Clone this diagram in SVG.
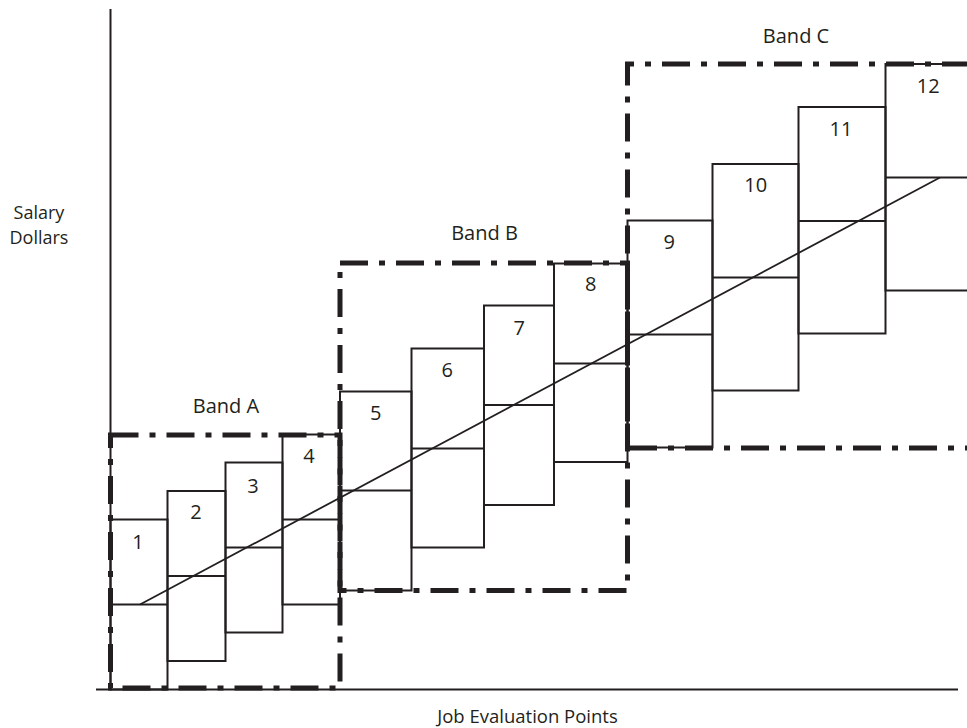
<svg xmlns="http://www.w3.org/2000/svg" width="967" height="728" viewBox="0 0 967 728">
  <style>
    .bg { fill: #ffffff; }
    .axis { stroke: #231f20; stroke-width: 2; fill: none; }
    .grade rect, .grade path, .grade line { stroke: #231f20; stroke-width: 2; fill: none; }
    .band path { stroke: #231f20; stroke-width: 5; fill: none; stroke-dasharray: 28 11 6 11; stroke-linejoin: miter; }
    .trend { stroke: #231f20; stroke-width: 1.8; fill: none; }
    text { font-family: "Open Sans", "Noto Sans", "Liberation Sans", sans-serif; fill: #231f20; }
    .num { font-size: 20px; text-anchor: middle; }
    .lbl { font-size: 20px; text-anchor: middle; }
    .ax { font-size: 18.5px; text-anchor: middle; }
    .ax-s { font-size: 18px; text-anchor: middle; }
  </style>

  <rect class="bg" x="0" y="0" width="967" height="728"/>

  <!-- axes -->
  <g id="axes">
    <line class="axis" x1="110.5" y1="9" x2="110.5" y2="690"/>
    <line class="axis" x1="96" y1="689.5" x2="958" y2="689.5"/>
    <text class="ax-s" x="39" y="219">Salary</text>
    <text class="ax-s" x="39" y="244">Dollars</text>
    <text class="ax" x="527.5" y="722.5">Job Evaluation Points</text>
  </g>

  <!-- pay grades: range box with midpoint line -->
  <g id="grade-1" class="grade">
    <rect x="110.5" y="519.5" width="57" height="170"/>
    <line x1="110.5" y1="604.5" x2="167.5" y2="604.5"/>
    <text class="num" x="138" y="548.5">1</text>
  </g>
  <g id="grade-2" class="grade">
    <rect x="167.5" y="491" width="58" height="170"/>
    <line x1="167.5" y1="576" x2="225.5" y2="576"/>
    <text class="num" x="196" y="519">2</text>
  </g>
  <g id="grade-3" class="grade">
    <rect x="225.5" y="462.5" width="57" height="170"/>
    <line x1="225.5" y1="547.5" x2="282.5" y2="547.5"/>
    <text class="num" x="253" y="492.5">3</text>
  </g>
  <g id="grade-4" class="grade">
    <rect x="282.5" y="434.5" width="57.5" height="170"/>
    <line x1="282.5" y1="519.5" x2="340" y2="519.5"/>
    <text class="num" x="309" y="462.5">4</text>
  </g>
  <g id="grade-5" class="grade">
    <rect x="340" y="391.5" width="71.5" height="199"/>
    <line x1="340" y1="490.5" x2="411.5" y2="490.5"/>
    <text class="num" x="375.7" y="420">5</text>
  </g>
  <g id="grade-6" class="grade">
    <rect x="411.5" y="348.5" width="72.5" height="199"/>
    <line x1="411.5" y1="448.5" x2="484" y2="448.5"/>
    <text class="num" x="447.3" y="377">6</text>
  </g>
  <g id="grade-7" class="grade">
    <rect x="484" y="305.5" width="70" height="199.5"/>
    <line x1="484" y1="405" x2="554" y2="405"/>
    <text class="num" x="519.3" y="335">7</text>
  </g>
  <g id="grade-8" class="grade">
    <rect x="554" y="263.5" width="73.5" height="198.5"/>
    <line x1="554" y1="363.5" x2="627.5" y2="363.5"/>
    <text class="num" x="590.7" y="291">8</text>
  </g>
  <g id="grade-9" class="grade">
    <rect x="627.5" y="220.5" width="85" height="227"/>
    <line x1="627.5" y1="334.5" x2="712.5" y2="334.5"/>
    <text class="num" x="669.3" y="249">9</text>
  </g>
  <g id="grade-10" class="grade">
    <rect x="712.5" y="164" width="86" height="226.5"/>
    <line x1="712.5" y1="277.5" x2="798.5" y2="277.5"/>
    <text class="num" x="755.7" y="192">10</text>
  </g>
  <g id="grade-11" class="grade">
    <rect x="798.5" y="107" width="87" height="226.5"/>
    <line x1="798.5" y1="221" x2="885.5" y2="221"/>
    <text class="num" x="841" y="136">11</text>
  </g>
  <g id="grade-12" class="grade">
    <path d="M970 64 H885.5 V290.5 H970 M885.5 177.5 H970"/>
    <text class="num" x="928.3" y="92.5">12</text>
  </g>

  <!-- broad bands (dash-dot outlines) -->
  <g id="band-a" class="band">
    <path d="M110.5 435 H340 V688 H110.5 Z"/>
    <text class="lbl" x="226" y="413">Band A</text>
  </g>
  <g id="band-b" class="band">
    <path d="M340 263 H627.5 V590.5 H340 Z"/>
    <text class="lbl" x="484.5" y="240">Band B</text>
  </g>
  <g id="band-c" class="band">
    <path d="M970 64 H627.5 V448 H970"/>
    <text class="lbl" x="796" y="43">Band C</text>
  </g>

  <!-- pay policy line -->
  <g id="connectors">
    <line class="trend" x1="140" y1="604.5" x2="940" y2="177.5"/>
  </g>
</svg>
